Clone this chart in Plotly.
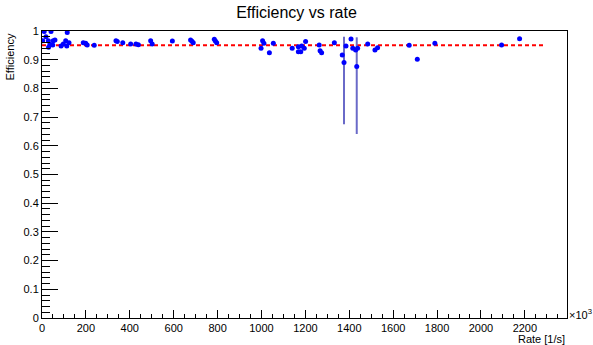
import plotly.graph_objects as go

# Rate in units of 10^3 /s, efficiency values
rate = [10, 41, 115, 3, 18, 29, 36, 30, 51, 59, 49, 87, 97, 108, 123, 113,
        188, 199, 206, 238, 337, 343, 368, 404, 428, 439, 495, 502, 594,
        677, 683, 689, 785, 790, 796, 1005, 1011, 998, 1054, 1036, 1140,
        1168, 1168, 1179, 1183, 1195, 1201, 1263, 1267, 1274, 1332, 1368,
        1376, 1385, 1408, 1416, 1429, 1438, 1434, 1484, 1517, 1529, 1673,
        1710, 1790, 2094, 2176]
eff = [0.998, 0.998, 0.995, 0.966, 0.980, 0.966, 0.954, 0.943, 0.966, 0.969,
       0.951, 0.948, 0.955, 0.966, 0.959, 0.948, 0.959, 0.957, 0.951, 0.950,
       0.966, 0.963, 0.959, 0.955, 0.955, 0.952, 0.966, 0.955, 0.965, 0.969,
       0.964, 0.959, 0.971, 0.965, 0.959, 0.966, 0.957, 0.940, 0.957, 0.924,
       0.940, 0.945, 0.928, 0.928, 0.948, 0.940, 0.963, 0.951, 0.931, 0.924,
       0.959, 0.916, 0.890, 0.948, 0.972, 0.940, 0.934, 0.940, 0.876, 0.955,
       0.934, 0.942, 0.950, 0.902, 0.957, 0.951, 0.973]
err_up = [0.0] * len(eff)
err_down = [0.0] * len(eff)
err_up[rate.index(1376)] = 0.090
err_down[rate.index(1376)] = 0.215
err_up[rate.index(1434)] = 0.102
err_down[rate.index(1434)] = 0.235

fit_x = [0, 2295]
fit_y = [0.95, 0.95]

fig = go.Figure()

fig.add_trace(go.Scatter(
    x=fit_x, y=fit_y, mode="lines",
    line={"color": "red", "width": 2, "dash": "4px,3px"},
    showlegend=False, hoverinfo="skip"
))

fig.add_trace(go.Scatter(
    x=rate, y=eff, mode="markers",
    marker={"color": "blue", "size": 5},
    error_y={"type": "data", "symmetric": False, "array": err_up,
             "arrayminus": err_down, "color": "#6a6ac8",
             "thickness": 2, "width": 0},
    showlegend=False
))

font = "Liberation Sans, Arial, sans-serif"
axis_common = {
    "showgrid": False, "zeroline": False, "showline": True,
    "linecolor": "black", "linewidth": 1, "mirror": True,
    "ticks": "inside", "tickcolor": "black", "automargin": False,
    "tickfont": {"size": 11, "color": "black", "family": font},
}

fig.update_layout(
    width=593, height=345,
    paper_bgcolor="white", plot_bgcolor="white",
    margin={"l": 42, "r": 26, "t": 31, "b": 27, "autoexpand": False},
    title={"text": "Efficiency vs rate", "x": 0.5, "xref": "container",
           "y": 1 - 12 / 345, "yanchor": "middle", "xanchor": "center",
           "font": {"size": 16, "color": "black", "family": font}},
    xaxis={**axis_common, "range": [0, 2392], "tick0": 0, "dtick": 200,
           "ticklen": 8,
           "minor": {"dtick": 50, "ticklen": 4, "ticks": "inside",
                     "tickcolor": "black", "showgrid": False}},
    yaxis={**axis_common, "range": [0, 1], "tick0": 0, "dtick": 0.1,
           "ticklen": 16,
           "minor": {"dtick": 0.02, "ticklen": 8, "ticks": "inside",
                     "tickcolor": "black", "showgrid": False}},
    annotations=[
        {"text": "Efficiency", "textangle": -90, "xref": "paper",
         "yref": "paper", "x": -0.061, "y": 1.0, "xanchor": "center",
         "yanchor": "top", "showarrow": False,
         "font": {"size": 11, "color": "black", "family": font}},
        {"text": "Rate [1/s]", "xref": "paper", "yref": "paper",
         "x": 1.0, "y": -0.074, "xanchor": "right", "yanchor": "middle",
         "showarrow": False,
         "font": {"size": 11, "color": "black", "family": font}},
        {"text": "×10<sup>3</sup>", "xref": "paper", "yref": "paper",
         "x": 1.0, "y": 0.014, "xanchor": "left", "yanchor": "middle",
         "showarrow": False,
         "font": {"size": 11, "color": "black", "family": font}},
    ],
)

# browser default body margin would shift the figure by 8px
fig.write_html("out.html", config={"displayModeBar": False},
               post_script="document.body.style.margin='0';")
